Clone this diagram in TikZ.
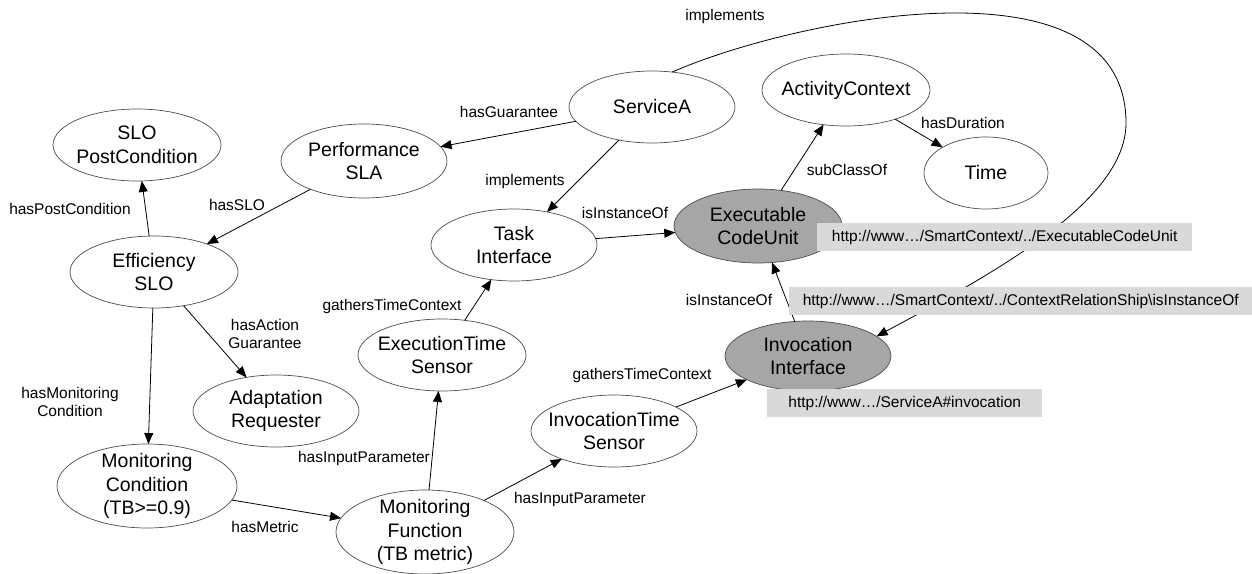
\documentclass[tikz,border=0pt]{standalone}
\usepackage{fontspec}
\setmainfont{Liberation Sans}
\usetikzlibrary{shapes.geometric,arrows.meta}
\begin{document}
\begin{tikzpicture}[x=1pt,y=-1pt,
  ell/.style={ellipse, draw=black!70, line width=0.7pt, inner sep=-60pt, outer sep=0pt,
    align=center, font=\fontsize{19.5}{23.5}\selectfont},
  gell/.style={ell, fill=gray!70},
  lbl/.style={font=\fontsize{15.5}{18.5}\selectfont, align=center, inner sep=0pt},
  arr/.style={-{Triangle[length=11pt,width=9pt]}, line width=0.8pt},
  urlbox/.style={fill=black!15, font=\fontsize{15.5}{18.5}\selectfont, minimum height=28pt,
    inner sep=0pt, anchor=west}]
\useasboundingbox (0,0) rectangle (1252,573);

% nodes
\node[ell, minimum width=166pt, minimum height=72pt] (SA) at (652,107) {ServiceA};
\node[ell, minimum width=168pt, minimum height=72pt] (AC) at (846,90) {ActivityContext};
\node[ell, minimum width=124pt, minimum height=72pt] (TM) at (986,173) {Time};
\node[ell, minimum width=166pt, minimum height=74pt] (PS) at (364,161) {Performance\\SLA};
\node[ell, minimum width=168pt, minimum height=72pt] (SP) at (137,145) {SLO\\PostCondition};
\node[ell, minimum width=168pt, minimum height=72pt] (ES) at (154,272) {Efficiency\\SLO};
\node[ell, minimum width=166pt, minimum height=72pt] (TI) at (514,245) {Task\\Interface};
\node[gell, minimum width=168pt, minimum height=74pt] (ECU) at (758,226) {Executable\\CodeUnit};
\node[ell, minimum width=168pt, minimum height=72pt] (ETS) at (442,355) {ExecutionTime\\Sensor};
\node[ell, minimum width=166pt, minimum height=72pt] (AR) at (276,411) {Adaptation\\Requester};
\node[ell, minimum width=180pt, minimum height=84pt] (MC) at (147,486) {Monitoring\\Condition\\(TB>=0.9)};
\node[ell, minimum width=178pt, minimum height=84pt] (MF) at (425,532) {Monitoring\\Function\\(TB metric)};
\node[ell, minimum width=166pt, minimum height=72pt] (ITS) at (614,431) {InvocationTime\\Sensor};
\node[gell, minimum width=166pt, minimum height=70pt] (II) at (808,356) {Invocation\\Interface};

% edge labels
\node[lbl] (L1) at (725,16) {implements};
\node[lbl] (L2) at (509,112) {hasGuarantee};
\node[lbl] (L3) at (525,181) {implements};
\node[lbl] (L4) at (625,213) {isInstanceOf};
\node[lbl] (L5) at (847,170) {subClassOf};
\node[lbl] (L6) at (963,123) {hasDuration};
\node[lbl] (L7) at (70,209) {hasPostCondition};
\node[lbl] (L8) at (237,205) {hasSLO};
\node[lbl] (L9) at (265,334) {hasAction\\Guarantee};
\node[lbl] (L10) at (70,402) {hasMonitoring\\Condition};
\node[lbl] (L11) at (392,306) {gathersTimeContext};
\node[lbl] (L12) at (364,458) {hasInputParameter};
\node[lbl] (L13) at (265,527) {hasMetric};
\node[lbl] (L14) at (580,499) {hasInputParameter};
\node[lbl] (L15) at (642,375) {gathersTimeContext};
\node[lbl] (L16) at (729,300) {isInstanceOf};

% connectors
\draw[arr] (SA) -- (PS);
\draw[arr] (SA) -- (TI);
\draw[arr] (PS) -- (ES);
\draw[arr] (ES) -- (SP);
\draw[arr] (ES) -- (MC);
\draw[arr] (ES) -- (AR);
\draw[arr] (MC) -- (MF);
\draw[arr] (MF) -- (ETS);
\draw[arr] (MF) -- (ITS);
\draw[arr] (ETS) -- (TI);
\draw[arr] (TI) -- (ECU);
\draw[arr] (ECU) -- (AC);
\draw[arr] (AC) -- (TM);
\draw[arr] (ITS) -- (II);
\draw[arr] (II) -- (ECU);
\coordinate (bend) at (1126,123);
\draw[arr] (SA.60) .. controls (790,20) and (1126,-50) .. (bend)
  .. controls (1126,200) and (1000,270) .. (II.16);

% URL boxes
\node[urlbox, minimum width=375pt] (B1) at (817,237) {http://www…/SmartContext/../ExecutableCodeUnit};
\node[urlbox, minimum width=463pt] (B2) at (789,301) {http://www…/SmartContext/../ContextRelationShip\textbackslash isInstanceOf};
\node[urlbox, minimum width=275pt] (B3) at (767,403) {http://www…/ServiceA\#invocation};
\end{tikzpicture}
\end{document}
